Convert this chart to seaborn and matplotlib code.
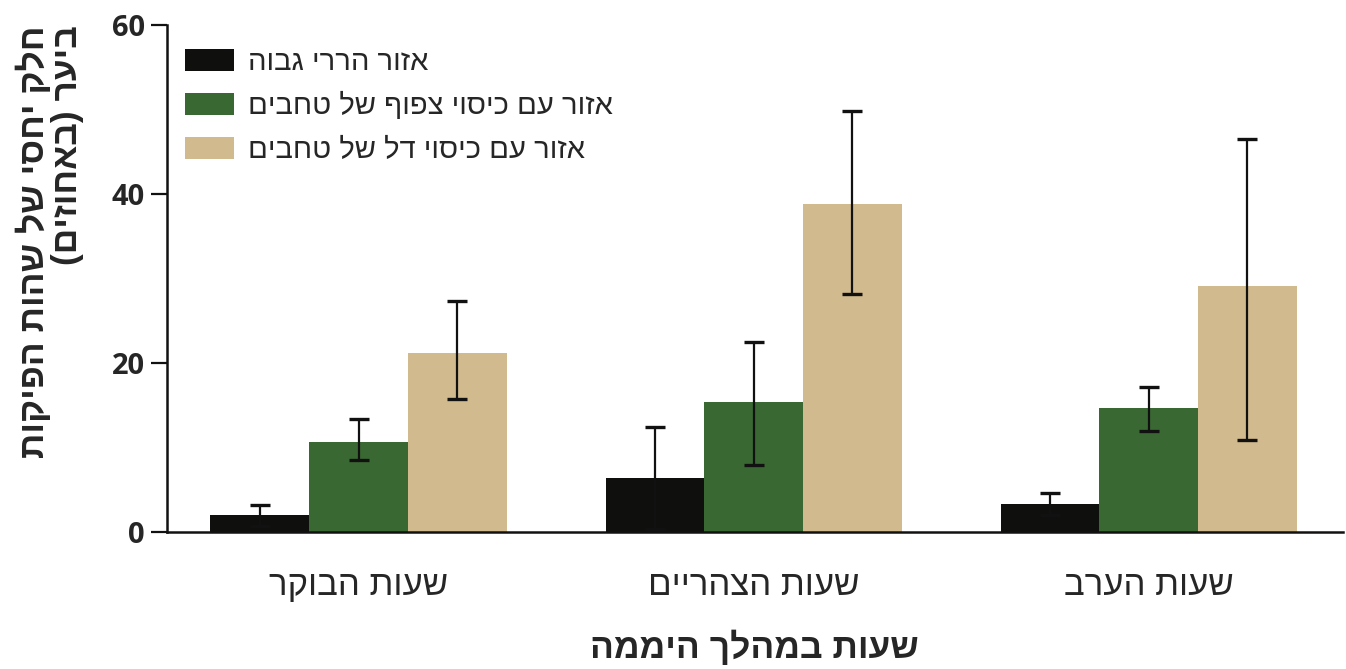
import matplotlib
matplotlib.use("Agg")
import matplotlib.pyplot as plt
import seaborn as sns
import pandas as pd
import numpy as np

# ---- data (logical Hebrew order) ----
periods = ["שעות הבוקר", "שעות הצהריים", "שעות הערב"]
areas = ["אזור הררי גבוה", "אזור עם כיסוי צפוף של טחבים", "אזור עם כיסוי דל של טחבים"]
high_mountain = [1.9, 6.35, 3.25]
dense_moss = [10.55, 15.35, 14.65]
sparse_moss = [21.2, 38.8, 29.1]
high_mountain_lo = [0.6, 0.35, 1.9]
high_mountain_hi = [3.15, 12.35, 4.6]
dense_moss_lo = [8.5, 7.85, 11.85]
dense_moss_hi = [13.3, 22.5, 17.1]
sparse_moss_lo = [15.7, 28.1, 10.9]
sparse_moss_hi = [27.35, 49.8, 46.5]
yticks = [0, 20, 40, 60]
ylabel_lines = ["חלק יחסי של שהות הפיקות", "ביער (באחוזים)"]
xlabel = "שעות במהלך היממה"
colors = ["#0f0f0d", "#3a6833", "#d1ba8d"]


def vis(s):
    """Visual (RTL) order for matplotlib, which has no bidi support."""
    mirror = {"(": ")", ")": "("}
    return "".join(mirror.get(c, c) for c in reversed(s))


sns.set_theme(style="white")
FONT = ["Liberation Sans Narrow", "Liberation Sans", "DejaVu Sans"]
plt.rcParams["font.family"] = FONT

df = pd.DataFrame({
    "period": [vis(p) for p in periods] * 3,
    "area": [vis(a) for a in areas for _ in periods],
    "value": high_mountain + dense_moss + sparse_moss,
})
los = [high_mountain_lo, dense_moss_lo, sparse_moss_lo]
his = [high_mountain_hi, dense_moss_hi, sparse_moss_hi]
vals = [high_mountain, dense_moss, sparse_moss]

fig = plt.figure(figsize=(13.46, 6.69), dpi=100)
ax = fig.add_axes([0.1238, 0.2055, 0.8740, 0.7571])

sns.barplot(data=df, x="period", y="value", hue="area",
            order=[vis(p) for p in periods],
            hue_order=[vis(a) for a in areas],
            palette=colors, width=0.75, errorbar=None,
            saturation=1, linewidth=0, ax=ax)

for cont, v, lo, hi in zip(ax.containers, vals, los, his):
    xs = [b.get_x() + b.get_width() / 2 for b in cont]
    v = np.array(v); lo = np.array(lo); hi = np.array(hi)
    ax.errorbar(xs, v, yerr=[v - lo, hi - v], fmt="none", ecolor="#111111",
                elinewidth=1.6, capsize=7, capthick=2.4, zorder=5)

ax.set_xlim(-0.486, 2.492)
ax.set_ylim(0, 60)
ax.set_yticks(yticks)
ax.set_yticklabels([str(t) for t in yticks], fontsize=21, fontweight="bold",
                   family=["Open Sans", "DejaVu Sans"])
ax.tick_params(axis="y", direction="out", length=11.5, width=1.6, pad=4, color="#111111",
               left=True)
ax.tick_params(axis="x", length=0, pad=27, labelsize=25)
for lab in ax.get_xticklabels():
    lab.set_family(FONT)

sns.despine(ax=ax)
for s in ["left", "bottom"]:
    ax.spines[s].set_linewidth(1.8)
    ax.spines[s].set_color("#111111")

ax.set_xlabel(vis(xlabel), fontsize=25.5, fontweight="bold", labelpad=20, family=FONT)
ax.set_ylabel("\n".join(vis(l) for l in ylabel_lines), fontsize=25.5, fontweight="bold",
              labelpad=20, family=FONT, linespacing=1.0, loc="top",
              multialignment="right")

leg = ax.legend(loc="upper left", bbox_to_anchor=(0.016, 0.955), frameon=False,
                fontsize=21, handlelength=1.65, handleheight=0.8, handletextpad=0.5,
                labelspacing=0.55, borderpad=0, borderaxespad=0)

fig.savefig("out.png", dpi=100, facecolor="white")
